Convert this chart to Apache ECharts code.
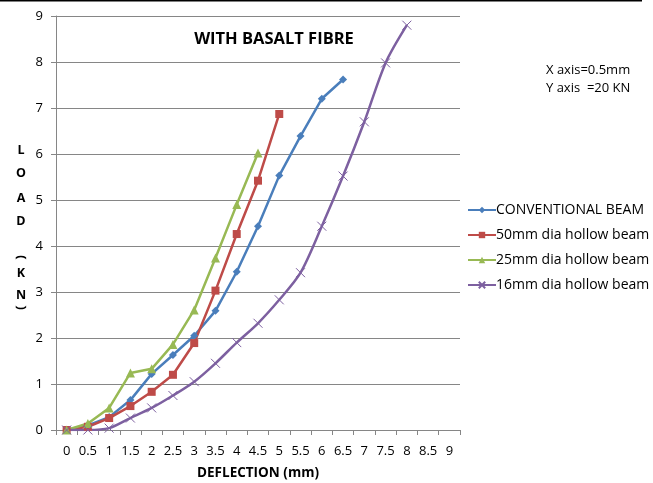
<!DOCTYPE html>
<html>
<head>
<meta charset="utf-8">
<script src="https://cdn.jsdelivr.net/npm/echarts@6/dist/echarts.min.js"></script>
<style>
  html, body { margin: 0; padding: 0; background: #fff; }
  #chart { width: 653px; height: 483px; }
</style>
</head>
<body>
<div id="chart"></div>
<script>
// Deflection categories (mm)
const deflection = ['0','0.5','1','1.5','2','2.5','3','3.5','4','4.5','5','5.5','6','6.5','7','7.5','8','8.5','9'];

// Load readings (kN) for each beam type
const conventionalBeam = [0, 0.1, 0.28, 0.65, 1.22, 1.63, 2.05, 2.59, 3.44, 4.43, 5.53, 6.39, 7.2, 7.62];
const hollow50mm = [0, 0.07, 0.26, 0.52, 0.83, 1.2, 1.89, 3.03, 4.26, 5.42, 6.87];
const hollow25mm = [0, 0.14, 0.48, 1.24, 1.33, 1.86, 2.61, 3.74, 4.9, 6.02];
const hollow16mm = [0, 0, 0.04, 0.26, 0.48, 0.75, 1.05, 1.45, 1.9, 2.32, 2.83, 3.42, 4.43, 5.52, 6.7, 7.98, 8.8];

const seriesNames = ['CONVENTIONAL BEAM', '50mm dia hollow beam', '25mm dia hollow beam', '16mm dia hollow beam'];
const seriesColors = ['#4a7ebb', '#be4b48', '#98b954', '#7d60a0'];

const baseFont = '"Open Sans", "Noto Sans", sans-serif';
const crossSymbol = 'path://M0,0L10,10M10,0L0,10';

// Stacked vertical axis title: letters plus turned brackets
const yTitleStyle = { fontFamily: baseFont, fontWeight: 'bold', fontSize: 12.5, fill: '#000', align: 'center', verticalAlign: 'middle' };
const bracketStyle = { fontFamily: '"DejaVu Sans", sans-serif', fontWeight: 'bold', fontSize: 18, fill: '#000', align: 'center', verticalAlign: 'middle' };
const yTitleLetters = [
  { ch: 'L', y: 150 }, { ch: 'O', y: 173 }, { ch: 'A', y: 198 }, { ch: 'D', y: 221 },
  { ch: 'K', y: 273 }, { ch: 'N', y: 295 }
];
const yTitleBrackets = [{ ch: '\u2322', y: 256 }, { ch: '\u2323', y: 308 }];

const chart = echarts.init(document.getElementById('chart'), null, { renderer: 'canvas' });

chart.setOption({
  animation: false,
  backgroundColor: '#ffffff',
  grid: { left: 56, right: 193, top: 16, bottom: 53, containLabel: false, outerBoundsMode: 'none' },
  title: {
    text: 'WITH BASALT FIBRE',
    left: 269, top: 26, textAlign: 'center',
    textStyle: { fontFamily: baseFont, fontWeight: 'bold', fontSize: 16.5, color: '#000' }
  },
  legend: {
    orient: 'vertical',
    left: 462, top: 198,
    itemGap: 11, itemWidth: 28, itemHeight: 8,
    textStyle: { fontFamily: baseFont, fontSize: 14, color: '#000', padding: [0, 0, 0, -5] },
    data: seriesNames
  },
  xAxis: {
    type: 'category',
    data: deflection,
    boundaryGap: true,
    name: 'DEFLECTION (mm)',
    nameLocation: 'middle',
    nameGap: 36,
    nameTextStyle: { fontFamily: baseFont, fontWeight: 'bold', fontSize: 13.5, color: '#000' },
    axisLine: { lineStyle: { color: '#868686' } },
    axisTick: { show: true, length: 5, lineStyle: { color: '#868686' } },
    axisLabel: { fontFamily: baseFont, fontSize: 13, color: '#000', margin: 15, interval: 0 },
    splitLine: { show: false }
  },
  yAxis: {
    type: 'value',
    min: 0, max: 9, interval: 1,
    axisLine: { show: true, lineStyle: { color: '#868686' } },
    axisTick: { show: true, length: 5, lineStyle: { color: '#868686' } },
    axisLabel: { fontFamily: baseFont, fontSize: 13, color: '#000', margin: 13 },
    splitLine: { lineStyle: { color: '#868686', width: 1 } }
  },
  graphic: [
    {
      type: 'line', shape: { x1: 0, y1: 0.5, x2: 642, y2: 0.5 },
      style: { stroke: '#000', lineWidth: 2 }
    },
    {
      type: 'text', left: 546, top: 61,
      style: { text: 'X axis=0.5mm\nY axis  =20 KN', fontFamily: baseFont, fontSize: 13, lineHeight: 18, fill: '#000' }
    }
  ].concat(
    yTitleLetters.map(l => ({ type: 'text', x: 21, y: l.y, style: Object.assign({ text: l.ch }, yTitleStyle) })),
    yTitleBrackets.map(b => ({ type: 'text', x: 21, y: b.y, style: Object.assign({ text: b.ch }, bracketStyle) }))
  ),
  series: [
    {
      name: seriesNames[0], type: 'line', data: conventionalBeam,
      symbol: 'diamond', symbolSize: 8, showSymbol: true,
      lineStyle: { width: 2.5, color: seriesColors[0] },
      itemStyle: { color: seriesColors[0] }
    },
    {
      name: seriesNames[1], type: 'line', data: hollow50mm,
      symbol: 'rect', symbolSize: 8,
      lineStyle: { width: 2.5, color: seriesColors[1] },
      itemStyle: { color: seriesColors[1] }
    },
    {
      name: seriesNames[2], type: 'line', data: hollow25mm,
      symbol: 'triangle', symbolSize: 9,
      lineStyle: { width: 2.5, color: seriesColors[2] },
      itemStyle: { color: seriesColors[2] }
    },
    {
      name: seriesNames[3], type: 'line', data: hollow16mm,
      symbol: crossSymbol, symbolSize: 9, smooth: 0.3,
      lineStyle: { width: 2.5, color: seriesColors[3] },
      itemStyle: { color: 'rgba(0,0,0,0)', borderColor: seriesColors[3], borderWidth: 1 }
    }
  ]
});
</script>
</body>
</html>
